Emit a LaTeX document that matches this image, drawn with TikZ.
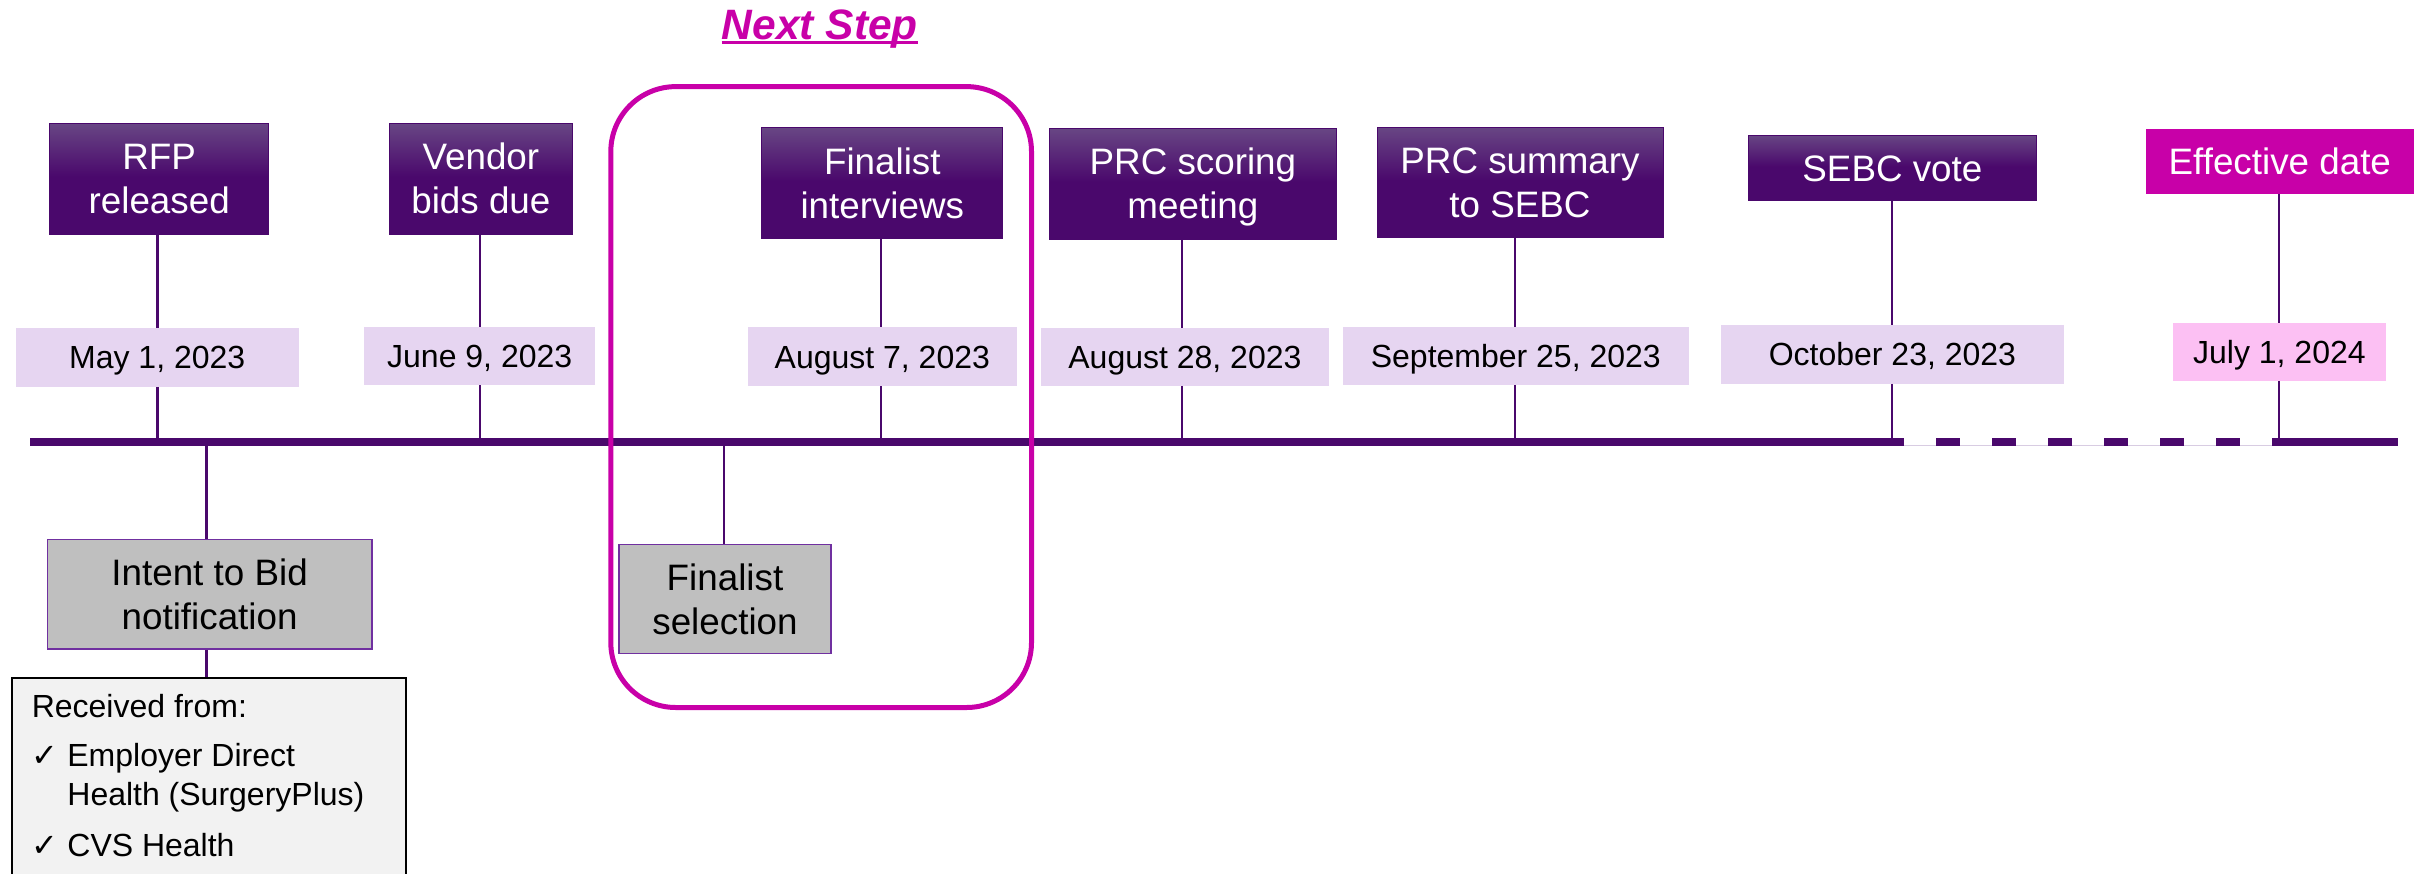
\documentclass[tikz,border=0pt]{standalone}
\usepackage{fontspec}
\setmainfont{Liberation Sans}
\newfontfamily\checkfont{DejaVu Sans}

\definecolor{dkpurple}{RGB}{74,8,108}
\definecolor{toppurple}{RGB}{104,70,132}
\definecolor{lavender}{RGB}{230,213,241}
\definecolor{lightpink}{RGB}{252,192,243}
\definecolor{hotmag}{RGB}{200,0,168}
\definecolor{greybox}{RGB}{191,191,191}
\definecolor{greyedge}{RGB}{112,48,160}
\definecolor{notebg}{RGB}{242,242,242}
\definecolor{dashline}{RGB}{216,204,226}

% dark purple with a lighter band towards the top edge
\pgfdeclareverticalshading{titlegrad}{100bp}{color(0bp)=(dkpurple); color(51bp)=(dkpurple); color(75bp)=(toppurple); color(100bp)=(toppurple)}

\tikzset{
  titlebox/.style={shade, shading=titlegrad, draw=dkpurple, line width=1pt,
    text=white, font=\fontsize{36.8}{44}\selectfont, align=center, inner sep=0pt},
  onerow/.style={text height=26.3pt, text depth=0pt},
  effbox/.style={fill=hotmag, text=white, font=\fontsize{36.8}{44}\selectfont,
    inner sep=0pt, onerow},
  datebox/.style={fill=lavender, font=\fontsize{32}{38}\selectfont, inner sep=0pt,
    text height=22.9pt, text depth=0pt},
  greynode/.style={fill=greybox, draw=greyedge, line width=1.5pt,
    font=\fontsize{36.8}{44}\selectfont, align=center, inner sep=0pt},
  notebox/.style={fill=notebg, draw=black, line width=2pt, inner sep=0pt},
  listtext/.style={font=\fontsize{32}{38}\selectfont, inner sep=0pt, anchor=base west},
  checktext/.style={font=\checkfont\fontsize{32}{38}\selectfont, inner sep=0pt, anchor=base west},
  link/.style={draw=dkpurple, line width=2.2pt},
  axisline/.style={draw=dkpurple, line width=7.5pt},
}

\begin{document}
\begin{tikzpicture}[x=1pt,y=-1pt]
\useasboundingbox (0,0) rectangle (2422,873);
\clip (0,0) rectangle (2422,873);

% heading
\node[anchor=base west, inner sep=0pt, text=hotmag,
      font=\fontsize{42.5}{50}\selectfont\bfseries\itshape] (nextstep) at (721.7,39.1) {Next Step};
\draw[hotmag, line width=2.5pt] ([yshift=-3.6pt]nextstep.base west) -- ([yshift=-3.6pt]nextstep.base east);

% milestones above the axis
\node[titlebox, minimum width=219.5, minimum height=110.7] (rfp) at (159.2,178.7) {RFP\\released};
\node[titlebox, minimum width=182.7, minimum height=110.7] (vendor) at (480.9,178.7) {Vendor\\bids due};
\node[titlebox, minimum width=240.7, minimum height=110.2] (finint) at (882.3,182.9) {Finalist\\interviews};
\node[titlebox, minimum width=286.2, minimum height=111] (prcscore) at (1192.9,183.8) {PRC scoring\\meetin\smash{g}};
\node[titlebox, minimum width=286, minimum height=110.4] (prcsum) at (1520,182.5) {PRC summary\\to SEBC};
\node[titlebox, onerow, minimum width=287.2, minimum height=65.7] (sebc) at (1892.4,167.9) {SEBC vote};
\node[effbox, minimum width=267.6, minimum height=64.7] (eff) at (2279.8,161.4) {Effective date};

% dates
\node[datebox, minimum width=282.7, minimum height=58.4] (may) at (157.2,357.5) {May 1, 2023};
\node[datebox, minimum width=230.9, minimum height=57.7] (june) at (479.7,356.2) {June 9, 2023};
\node[datebox, minimum width=268.7, minimum height=58.8] (aug7) at (882.3,356.6) {August 7, 2023};
\node[datebox, minimum width=287.8, minimum height=57.4] (aug28) at (1184.9,357) {August 28, 2023};
\node[datebox, minimum width=345.6, minimum height=57.4] (sep25) at (1515.8,356) {September 25, 2023};
\node[datebox, minimum width=342.7, minimum height=58.7] (oct23) at (1892.4,354.4) {October 23, 2023};
\node[datebox, fill=lightpink, minimum width=213.2, minimum height=57.7] (jul1) at (2279.4,351.9) {July 1, 2024};

% milestones below the axis
\node[greynode, minimum width=324.3, minimum height=109.7] (intent) at (209.6,594.2) {Intent to Bid\\notification};
\node[greynode, minimum width=211.7, minimum height=108.9] (finsel) at (725,599) {Finalist\\selection};

% list of received intents
\node[notebox, anchor=north west, minimum width=394.6, minimum height=240] (recv) at (10.7,676.7) {};
\node[listtext] (recvhead) at (31.6,717) {Received from:};
\node[checktext] (chk1) at (31.6,766.7) {✓};
\node[listtext] (item1a) at (67.2,766.7) {Employer Direct};
\node[listtext] (item1b) at (67.2,805) {Health (SurgeryPlus)};
\node[checktext] (chk2) at (31.6,856.7) {✓};
\node[listtext] (item2) at (67.2,856.7) {CVS Health};

% tick points on the axis
\coordinate (t1) at (157.4,442);
\coordinate (t2) at (479.6,442);
\coordinate (t3) at (881,442);
\coordinate (t4) at (1182,442);
\coordinate (t5) at (1515,442);
\coordinate (t6) at (1892,442);
\coordinate (t7) at (2279,442);
\coordinate (b1) at (206.4,442);
\coordinate (b2) at (724.3,442);

% connectors
\foreach \top/\dt/\tk in {rfp/may/t1, vendor/june/t2, finint/aug7/t3, prcscore/aug28/t4,
                          prcsum/sep25/t5, sebc/oct23/t6, eff/jul1/t7}{
  \draw[link] (\top.south -| \tk) -- (\dt.north -| \tk);
  \draw[link] (\dt.south -| \tk) -- (\tk);
}
\draw[link] (b1) -- (intent.north -| b1);
\draw[link] (intent.south -| b1) -- (recv.north -| b1);
\draw[link] (b2) -- (finsel.north -| b2);

% time axis
\coordinate (axL) at (30.4,442);
\coordinate (axM) at (1904,442);
\coordinate (axD1) at (1936,442);
\coordinate (axD2) at (2240,442);
\coordinate (axR1) at (2272.3,442);
\coordinate (axR) at (2397.5,442);
\draw[dashline, line width=1.2pt] ([yshift=-3.5pt]axM) -- ([yshift=-3.5pt]axR1);
\draw[axisline] (axL) -- (axM);
\draw[axisline, dash pattern=on 24pt off 32pt] (axD1) -- (axD2);
\draw[axisline] (axR1) -- (axR);

% frame around the next step
\node[draw=hotmag, line width=5pt, rounded corners=65pt, inner sep=0pt,
      minimum width=420.7, minimum height=620.9] (stepframe) at (821.15,397.05) {};
\end{tikzpicture}
\end{document}
